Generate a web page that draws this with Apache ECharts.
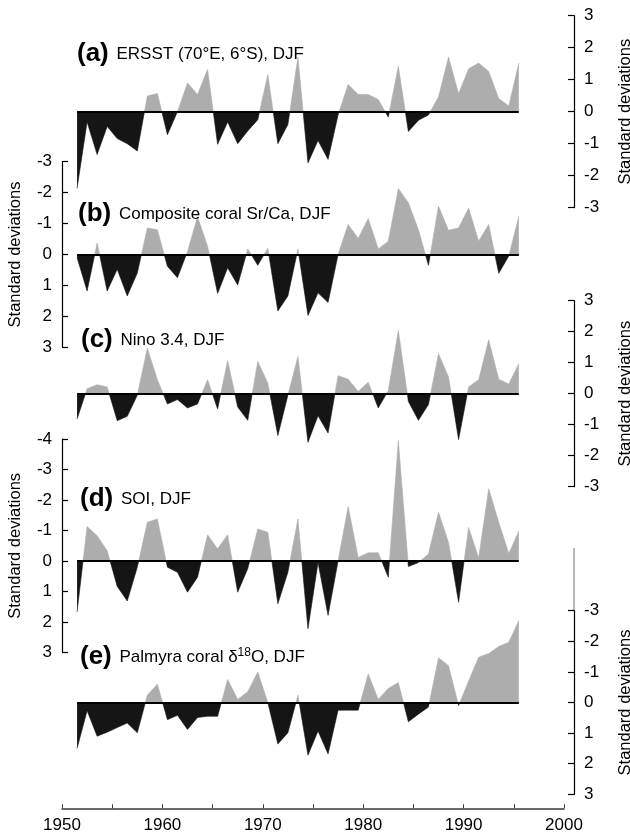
<!DOCTYPE html>
<html>
<head>
<meta charset="utf-8">
<title>DJF standardized anomalies</title>
<script src="https://cdn.jsdelivr.net/npm/echarts@6/dist/echarts.min.js"></script>
<style>
html, body { margin: 0; padding: 0; background: #fff; }
#main { width: 630px; height: 834px; }
</style>
</head>
<body>
<div id="main"></div>
<script>

// DJF seasons, one value per year
var yearList = [1951, 1952, 1953, 1954, 1955, 1956, 1957, 1958, 1959, 1960,
    1961, 1962, 1963, 1964, 1965, 1966, 1967, 1968, 1969, 1970,
    1971, 1972, 1973, 1974, 1975, 1976, 1977, 1978, 1979, 1980,
    1981, 1982, 1983, 1984, 1985, 1986, 1987, 1988, 1989, 1990,
    1991, 1992, 1993, 1994, 1995];

// (a) ERSST (70E, 6S)
var ersst = [-2.4, -0.32, -1.34, -0.46, -0.84, -1.0, -1.23, 0.49, 0.57, -0.72,
    0, 0.9, 0.54, 1.32, -1.02, -0.32, -1.0, -0.6, -0.25, 1.16,
    -1.0, -0.4, 1.7, -1.6, -0.9, -1.49, -0.1, 0.85, 0.54, 0.54,
    0.38, -0.17, 1.42, -0.62, -0.27, -0.1, 0.46, 1.71, 0.56, 1.34,
    1.52, 1.26, 0.41, 0.18, 1.52];

// (b) composite coral Sr/Ca (axis is inverted)
var coralSrCa = [0.1, 1.18, -0.37, 1.18, 0.48, 1.34, 0.6, -0.86, -0.8, 0.38,
    0.75, -0.1, -1.22, -0.27, 1.26, 0.43, 0.99, -0.18, 0.35, -0.2,
    1.83, 1.34, -0.18, 1.97, 1.24, 1.55, 0, -0.97, -0.52, -1.16,
    -0.18, -0.43, -2.13, -1.67, -0.8, 0.35, -1.56, -0.78, -0.86, -1.5,
    -0.43, -0.97, 0.61, 0.05, -1.24];

// (c) Nino 3.4
var nino34 = [-0.82, 0.16, 0.29, 0.22, -0.87, -0.73, -0.05, 1.47, 0.45, -0.33,
    -0.19, -0.46, -0.33, 0.45, -0.49, 1.07, -0.43, -0.86, 1.04, 0.34,
    -1.35, -0.05, 1.2, -1.57, -0.71, -1.27, 0.58, 0.47, 0.07, 0.37,
    -0.46, 0.1, 2.04, -0.25, -0.86, -0.35, 1.29, 0.54, -1.48, 0.22,
    0.45, 1.74, 0.47, 0.31, 0.97];

// (d) SOI (axis is inverted)
var soi = [1.67, -1.13, -0.83, -0.34, 0.83, 1.31, 0.2, -1.27, -1.38, 0.2,
    0.37, 1.02, 0.53, -0.86, -0.4, -0.86, 1.02, 0.25, -1.05, -0.94,
    1.4, 0.37, -1.38, 2.22, 0.05, 1.78, 0, -1.79, -0.12, -0.27,
    -0.27, 0.53, -3.95, 0.18, 0.05, -0.23, -1.6, -0.61, 1.35, -1.1,
    -0.1, -2.37, -1.27, -0.25, -0.98];

// (e) Palmyra coral d18O (axis is inverted)
var palmyra = [1.5, 0.27, 1.1, 0.97, 0.82, 0.67, 0.99, -0.24, -0.6, 0.56,
    0.42, 0.88, 0.49, 0.45, 0.45, -0.75, -0.1, -0.35, -1.0, 0,
    1.36, 0.99, -0.24, 1.72, 0.93, 1.68, 0.25, 0.25, 0.25, -0.93,
    -0.1, -0.46, -0.65, 0.63, 0.38, 0.15, -1.46, -1.2, 0.1, -0.7,
    -1.48, -1.6, -1.83, -1.97, -2.68];

var GRAY = '#adadad';
var BLACK = '#151515';
var FONT = 'Liberation Sans, Arial, Helvetica, sans-serif';

// layout of the five stacked panels (they overlap on purpose)
var panelList = [
    { data: ersst,     top: 15.7,  height: 192,   min: -3, max: 3, side: 'right', inverse: false,
      tag: '(a)', title: ' ERSST (70°E, 6°S), DJF', tx: 77, ty: 54 },
    { data: coralSrCa, top: 161.7, height: 185.6, min: -3, max: 3, side: 'left',  inverse: true,
      tag: '(b)', title: ' Composite coral Sr/Ca, DJF', tx: 78, ty: 214 },
    { data: nino34,    top: 300.7, height: 186,   min: -3, max: 3, side: 'right', inverse: false,
      tag: '(c)', title: ' Nino 3.4, DJF', tx: 81, ty: 340 },
    { data: soi,       top: 439,   height: 213.6, min: -4, max: 3, side: 'left',  inverse: true,
      tag: '(d)', title: ' SOI, DJF', tx: 80, ty: 499 },
    { data: palmyra,   top: 610.7, height: 183.6, min: -3, max: 3, side: 'right', inverse: true,
      tag: '(e)', title: null, tx: 80, ty: 657 }
];

var grid = [], xAxis = [], yAxis = [], series = [], visualMap = [], graphic = [];

panelList.forEach(function (p, i) {
    var points = yearList.map(function (y, k) { return [y + 0.5, p.data[k]]; });
    var first = yearList[0] + 0.5;
    var last = yearList[yearList.length - 1] + 0.5;

    // outerBoundsMode none: keep the plot exactly where it is, names may sit outside
    grid.push({ left: 62, right: 66, top: p.top, height: p.height, containLabel: false, outerBoundsMode: 'none' });

    xAxis.push({
        gridIndex: i,
        type: 'value',
        min: 1950,
        max: 2000,
        interval: 5,
        show: i === panelList.length - 1,
        offset: 14,
        axisLine: { onZero: false, lineStyle: { color: '#3a3a3a', width: 1.5 } },
        axisTick: { inside: true, length: 4, lineStyle: { color: '#3a3a3a', width: 1 } },
        axisLabel: {
            color: '#000', fontSize: 17, fontFamily: FONT, margin: 9,
            formatter: function (v) { return v % 10 === 0 ? String(v) : ''; }
        },
        splitLine: { show: false }
    });

    yAxis.push({
        gridIndex: i,
        type: 'value',
        min: p.min,
        max: p.max,
        interval: 1,
        inverse: p.inverse,
        position: p.side,
        offset: p.side === 'right' ? 10 : 0,
        name: 'Standard deviations',
        nameLocation: 'middle',
        nameRotate: 90,
        nameGap: p.side === 'right' ? 43 : 38,
        nameTextStyle: { color: '#000', fontSize: 16.5, fontFamily: FONT },
        axisLine: { show: true, lineStyle: { color: '#000', width: 1.2 } },
        axisTick: { show: true, inside: true, length: 6, lineStyle: { color: '#000', width: 1.2 } },
        axisLabel: { color: '#000', fontSize: 17, fontFamily: FONT, margin: 10 },
        splitLine: { show: false }
    });

    series.push({
        type: 'line',
        xAxisIndex: i,
        yAxisIndex: i,
        data: points,
        symbol: 'none',
        showSymbol: false,
        lineStyle: { width: 0.6 },
        areaStyle: { opacity: 1 },
        markLine: {
            silent: true,
            symbol: ['none', 'none'],
            label: { show: false },
            lineStyle: { color: '#000', width: 2.2, type: 'solid' },
            data: [[{ coord: [first, 0] }, { coord: [last, 0] }]]
        }
    });

    // gray above the drawn zero line, black below (finite bounds keep the gradient valid)
    visualMap.push({
        type: 'piecewise',
        show: false,
        seriesIndex: i,
        dimension: 1,
        pieces: p.inverse
            ? [{ min: -10, max: 0, color: GRAY }, { gt: 0, max: 10, color: BLACK }]
            : [{ gt: 0, max: 10, color: GRAY }, { min: -10, max: 0, color: BLACK }]
    });

    var text = p.title
        ? '{b|' + p.tag + '}{t|' + p.title + '}'
        : '{b|' + p.tag + '}{t| Palmyra coral δ}{s|18}{t|O, DJF}';
    graphic.push({
        type: 'text',
        x: p.tx,
        y: p.ty,
        z: 10,
        style: {
            text: text,
            verticalAlign: 'middle',
            fill: '#000',
            rich: {
                b: { fontSize: 26, fontWeight: 'bold', fontFamily: FONT, fill: '#000', padding: [0, 3, 0, 0] },
                t: { fontSize: 17, fontFamily: FONT, fill: '#000' },
                s: { fontSize: 12, fontFamily: FONT, fill: '#000', verticalAlign: 'top', padding: [3, 0, 0, 0] }
            }
        }
    });
});

// small gray stub above the axis of panel (e)
graphic.push({
    type: 'line',
    shape: { x1: 574, y1: 548, x2: 574, y2: 610 },
    style: { stroke: '#8a8a8a', lineWidth: 1.2 }
});

var chart = echarts.init(document.getElementById('main'));
chart.setOption({
    animation: false,
    backgroundColor: '#fff',
    grid: grid,
    xAxis: xAxis,
    yAxis: yAxis,
    visualMap: visualMap,
    series: series,
    graphic: graphic
});
</script>
</body>
</html>
